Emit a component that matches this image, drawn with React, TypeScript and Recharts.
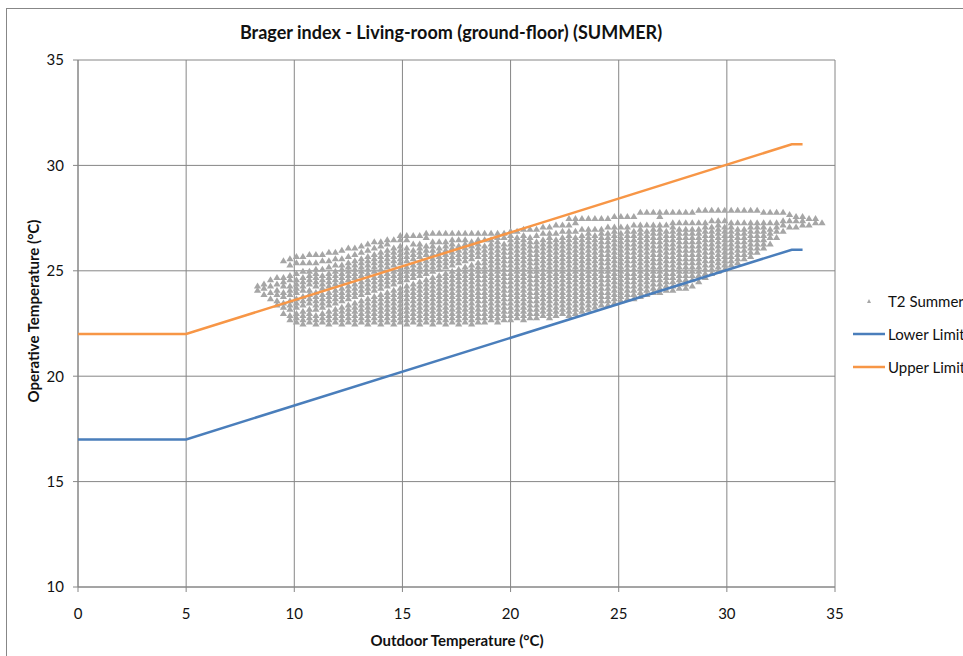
import { ScatterChart, Scatter, XAxis, YAxis, CartesianGrid } from "recharts";

const xTicks = [0, 5, 10, 15, 20, 25, 30, 35];
const yTicks = [10, 15, 20, 25, 30, 35];

const lowerLimit = [
  { x: 0, y: 17 },
  { x: 5, y: 17 },
  { x: 33, y: 26 },
  { x: 33.5, y: 26 },
];
const upperLimit = [
  { x: 0, y: 22 },
  { x: 5, y: 22 },
  { x: 33, y: 31 },
  { x: 33.5, y: 31 },
];

// T2 Summer readings, grouped by outdoor temperature: [outdoor, operative temps...]
const t2Summer: [number, number[]][] = [
  [8.3, [24.1, 24.3]],
  [8.6, [23.9, 24.2, 24.4]],
  [8.9, [23.7, 24.0, 24.3, 24.6]],
  [9.2, [23.4, 23.6, 23.9, 24.1, 24.4, 24.7]],
  [9.5, [23.0, 23.3, 23.5, 23.8, 24.0, 24.3, 24.5, 24.7, 25.5]],
  [9.8, [22.7, 22.9, 23.2, 23.4, 23.6, 23.9, 24.1, 24.3, 24.6, 24.8, 25.3, 25.6]],
  [10.1, [22.6, 22.8, 23.0, 23.3, 23.5, 23.7, 24.0, 24.2, 24.4, 24.6, 24.9, 25.4, 25.7]],
  [10.4, [22.5, 22.7, 22.9, 23.1, 23.4, 23.6, 23.8, 24.1, 24.3, 24.5, 24.7, 25.0, 25.4, 25.7]],
  [10.7, [22.6, 22.8, 23.0, 23.2, 23.5, 23.7, 23.9, 24.1, 24.4, 24.6, 24.8, 25.0, 25.4, 25.8]],
  [11.0, [22.5, 22.7, 22.9, 23.2, 23.4, 23.6, 23.8, 24.0, 24.3, 24.5, 24.7, 24.9, 25.1, 25.4, 25.8]],
  [11.3, [22.6, 22.8, 23.0, 23.3, 23.5, 23.7, 23.9, 24.2, 24.4, 24.6, 24.8, 25.1, 25.5, 25.8]],
  [11.6, [22.5, 22.7, 22.9, 23.1, 23.4, 23.6, 23.8, 24.0, 24.3, 24.5, 24.7, 24.9, 25.2, 25.5, 25.9]],
  [11.9, [22.6, 22.8, 23.0, 23.2, 23.5, 23.7, 23.9, 24.1, 24.4, 24.6, 24.8, 25.0, 25.3, 25.6, 25.9]],
  [12.2, [22.5, 22.7, 22.9, 23.1, 23.3, 23.6, 23.8, 24.0, 24.2, 24.5, 24.7, 24.9, 25.1, 25.3, 25.6, 26.0]],
  [12.5, [22.6, 22.8, 23.0, 23.2, 23.4, 23.7, 23.9, 24.1, 24.3, 24.6, 24.8, 25.0, 25.2, 25.4, 25.7, 26.1]],
  [12.8, [22.5, 22.7, 22.9, 23.1, 23.3, 23.5, 23.8, 24.0, 24.2, 24.4, 24.7, 24.9, 25.1, 25.3, 25.5, 25.8, 26.1]],
  [13.1, [22.6, 22.8, 23.0, 23.2, 23.4, 23.6, 23.9, 24.1, 24.3, 24.5, 24.8, 25.0, 25.2, 25.4, 25.6, 25.9, 26.2]],
  [13.4, [22.5, 22.7, 22.9, 23.1, 23.3, 23.5, 23.7, 24.0, 24.2, 24.4, 24.6, 24.9, 25.1, 25.3, 25.5, 25.7, 26.0, 26.3]],
  [13.7, [22.6, 22.8, 23.0, 23.2, 23.4, 23.6, 23.8, 24.1, 24.3, 24.5, 24.7, 25.0, 25.2, 25.4, 25.6, 25.8, 26.1, 26.4]],
  [14.0, [22.5, 22.7, 22.9, 23.1, 23.3, 23.5, 23.7, 23.9, 24.2, 24.4, 24.6, 24.8, 25.1, 25.3, 25.5, 25.7, 25.9, 26.2, 26.4]],
  [14.3, [22.6, 22.8, 23.0, 23.2, 23.4, 23.6, 23.8, 24.0, 24.3, 24.5, 24.7, 24.9, 25.2, 25.4, 25.6, 25.8, 26.0, 26.3, 26.5]],
  [14.6, [22.5, 22.7, 22.9, 23.1, 23.3, 23.5, 23.7, 23.9, 24.1, 24.4, 24.6, 24.8, 25.0, 25.3, 25.5, 25.7, 25.9, 26.1, 26.5]],
  [14.9, [22.6, 22.8, 23.0, 23.2, 23.4, 23.6, 23.8, 24.0, 24.2, 24.5, 24.7, 24.9, 25.1, 25.4, 25.6, 25.8, 26.0, 26.2, 26.5, 26.7]],
  [15.2, [22.5, 22.7, 22.9, 23.1, 23.3, 23.5, 23.7, 23.9, 24.1, 24.3, 24.6, 24.8, 25.0, 25.2, 25.5, 25.7, 25.9, 26.1, 26.5, 26.7]],
  [15.5, [22.6, 22.8, 23.0, 23.2, 23.4, 23.6, 23.8, 24.0, 24.2, 24.4, 24.7, 24.9, 25.1, 25.3, 25.6, 25.8, 26.0, 26.3, 26.7]],
  [15.8, [22.5, 22.7, 22.9, 23.1, 23.3, 23.5, 23.7, 23.9, 24.1, 24.3, 24.5, 24.8, 25.0, 25.2, 25.4, 25.7, 25.9, 26.1, 26.3, 26.7]],
  [16.1, [22.6, 22.8, 23.0, 23.2, 23.4, 23.6, 23.8, 24.0, 24.2, 24.4, 24.6, 24.9, 25.1, 25.3, 25.5, 25.8, 26.0, 26.2, 26.6, 26.8]],
  [16.4, [22.5, 22.7, 22.9, 23.1, 23.3, 23.5, 23.7, 23.9, 24.1, 24.3, 24.5, 24.7, 25.0, 25.2, 25.4, 25.6, 25.8, 26.0, 26.2, 26.4, 26.8]],
  [16.7, [22.6, 22.8, 23.0, 23.2, 23.4, 23.6, 23.8, 24.0, 24.2, 24.4, 24.6, 24.8, 25.1, 25.3, 25.5, 25.7, 25.9, 26.1, 26.4, 26.8]],
  [17.0, [22.5, 22.7, 22.9, 23.1, 23.3, 23.5, 23.7, 23.9, 24.1, 24.3, 24.5, 24.7, 24.9, 25.2, 25.4, 25.6, 25.8, 26.0, 26.2, 26.4, 26.8]],
  [17.3, [22.6, 22.8, 23.0, 23.2, 23.4, 23.6, 23.8, 24.0, 24.2, 24.4, 24.6, 24.8, 25.0, 25.3, 25.5, 25.7, 25.9, 26.1, 26.3, 26.5, 26.8]],
  [17.6, [22.5, 22.7, 22.9, 23.1, 23.3, 23.5, 23.7, 23.9, 24.1, 24.3, 24.5, 24.7, 24.9, 25.1, 25.4, 25.6, 25.8, 26.0, 26.2, 26.5, 26.8]],
  [17.9, [22.6, 22.8, 23.0, 23.2, 23.4, 23.6, 23.8, 24.0, 24.2, 24.4, 24.6, 24.8, 25.0, 25.2, 25.5, 25.7, 25.9, 26.1, 26.3, 26.5, 26.8]],
  [18.2, [22.5, 22.7, 22.9, 23.1, 23.3, 23.5, 23.7, 23.9, 24.1, 24.3, 24.5, 24.7, 24.9, 25.1, 25.3, 25.6, 25.8, 26.0, 26.2, 26.4, 26.8]],
  [18.5, [22.6, 22.8, 23.0, 23.2, 23.4, 23.6, 23.8, 24.0, 24.2, 24.4, 24.6, 24.8, 25.0, 25.2, 25.4, 25.7, 25.9, 26.1, 26.3, 26.5, 26.8]],
  [18.8, [22.6, 22.8, 23.0, 23.2, 23.4, 23.6, 23.8, 24.0, 24.2, 24.4, 24.6, 24.8, 25.0, 25.2, 25.4, 25.6, 25.8, 26.0, 26.2, 26.5, 26.8]],
  [19.1, [22.7, 22.9, 23.1, 23.3, 23.5, 23.7, 23.9, 24.1, 24.3, 24.5, 24.7, 24.9, 25.1, 25.3, 25.5, 25.7, 25.9, 26.1, 26.3, 26.5, 26.8]],
  [19.4, [22.6, 22.8, 23.0, 23.2, 23.4, 23.6, 23.8, 24.0, 24.2, 24.4, 24.6, 24.8, 25.0, 25.2, 25.4, 25.6, 25.8, 26.0, 26.2, 26.4, 26.6, 26.8]],
  [19.7, [22.7, 22.9, 23.1, 23.3, 23.5, 23.7, 23.9, 24.1, 24.3, 24.5, 24.7, 24.9, 25.1, 25.3, 25.5, 25.7, 25.9, 26.1, 26.3, 26.6, 26.8]],
  [20.0, [22.7, 22.9, 23.1, 23.3, 23.5, 23.7, 23.9, 24.1, 24.3, 24.5, 24.7, 24.9, 25.1, 25.3, 25.5, 25.7, 25.9, 26.1, 26.3, 26.5, 26.7, 26.9]],
  [20.3, [22.8, 23.0, 23.2, 23.4, 23.6, 23.8, 24.0, 24.2, 24.4, 24.6, 24.8, 25.0, 25.2, 25.4, 25.6, 25.8, 26.0, 26.2, 26.4, 26.6, 26.9]],
  [20.6, [22.7, 22.9, 23.1, 23.3, 23.5, 23.7, 23.9, 24.1, 24.3, 24.5, 24.7, 24.9, 25.1, 25.3, 25.5, 25.7, 25.9, 26.1, 26.3, 26.5, 26.7, 27.0]],
  [20.9, [22.8, 23.0, 23.2, 23.4, 23.6, 23.8, 24.0, 24.2, 24.4, 24.6, 24.8, 25.0, 25.2, 25.4, 25.6, 25.8, 26.0, 26.2, 26.4, 26.6, 27.0]],
  [21.2, [22.8, 23.0, 23.2, 23.4, 23.6, 23.8, 24.0, 24.2, 24.4, 24.6, 24.8, 25.0, 25.2, 25.4, 25.6, 25.8, 26.0, 26.2, 26.4, 26.7, 27.0]],
  [21.5, [22.9, 23.1, 23.3, 23.5, 23.7, 23.9, 24.1, 24.3, 24.5, 24.7, 24.9, 25.1, 25.3, 25.5, 25.7, 25.9, 26.1, 26.3, 26.5, 26.8, 27.1]],
  [21.8, [22.8, 23.0, 23.2, 23.4, 23.6, 23.8, 24.0, 24.2, 24.4, 24.6, 24.8, 25.0, 25.2, 25.4, 25.6, 25.8, 26.0, 26.2, 26.4, 26.6, 26.8, 27.1]],
  [22.1, [22.9, 23.1, 23.3, 23.5, 23.7, 23.9, 24.1, 24.3, 24.5, 24.7, 24.9, 25.1, 25.3, 25.5, 25.7, 25.9, 26.1, 26.3, 26.5, 26.8, 27.2]],
  [22.4, [23.0, 23.2, 23.4, 23.6, 23.8, 24.0, 24.2, 24.4, 24.6, 24.8, 25.0, 25.2, 25.4, 25.6, 25.8, 26.0, 26.2, 26.4, 26.6, 26.9, 27.2]],
  [22.7, [22.9, 23.1, 23.3, 23.5, 23.7, 23.9, 24.1, 24.3, 24.5, 24.7, 24.9, 25.1, 25.3, 25.5, 25.7, 25.9, 26.1, 26.3, 26.5, 26.7, 26.9, 27.2, 27.5]],
  [23.0, [23.0, 23.2, 23.4, 23.6, 23.8, 24.0, 24.2, 24.4, 24.6, 24.8, 25.0, 25.2, 25.4, 25.6, 25.8, 26.0, 26.2, 26.4, 26.6, 26.9, 27.3, 27.5]],
  [23.3, [23.1, 23.3, 23.5, 23.7, 23.9, 24.1, 24.3, 24.5, 24.7, 24.9, 25.1, 25.3, 25.5, 25.7, 25.9, 26.1, 26.3, 26.5, 26.7, 27.0, 27.5]],
  [23.6, [23.2, 23.4, 23.6, 23.8, 24.0, 24.2, 24.4, 24.6, 24.8, 25.0, 25.2, 25.4, 25.6, 25.8, 26.0, 26.2, 26.4, 26.6, 26.8, 27.0, 27.5]],
  [23.9, [23.3, 23.5, 23.7, 23.9, 24.1, 24.3, 24.5, 24.7, 24.9, 25.1, 25.3, 25.5, 25.7, 25.9, 26.1, 26.3, 26.5, 26.7, 27.0, 27.5]],
  [24.2, [23.4, 23.6, 23.8, 24.0, 24.2, 24.4, 24.6, 24.8, 25.0, 25.2, 25.4, 25.6, 25.8, 26.0, 26.2, 26.4, 26.6, 26.8, 27.0, 27.5]],
  [24.5, [23.4, 23.6, 23.8, 24.0, 24.2, 24.4, 24.6, 24.8, 25.0, 25.2, 25.4, 25.6, 25.8, 26.0, 26.2, 26.4, 26.6, 26.8, 27.1, 27.5]],
  [24.8, [23.5, 23.7, 23.9, 24.1, 24.3, 24.5, 24.7, 24.9, 25.1, 25.3, 25.5, 25.7, 25.9, 26.1, 26.3, 26.5, 26.7, 26.9, 27.1, 27.6]],
  [25.1, [23.6, 23.8, 24.0, 24.2, 24.4, 24.6, 24.8, 25.0, 25.2, 25.4, 25.6, 25.8, 26.0, 26.2, 26.4, 26.6, 26.8, 27.1, 27.6]],
  [25.4, [23.7, 23.9, 24.1, 24.3, 24.5, 24.7, 24.9, 25.1, 25.3, 25.5, 25.7, 25.9, 26.1, 26.3, 26.5, 26.7, 26.9, 27.1, 27.6]],
  [25.7, [23.7, 23.9, 24.1, 24.3, 24.5, 24.7, 24.9, 25.1, 25.3, 25.5, 25.7, 25.9, 26.1, 26.3, 26.5, 26.7, 26.9, 27.2, 27.6]],
  [26.0, [23.8, 24.0, 24.2, 24.4, 24.6, 24.8, 25.0, 25.2, 25.4, 25.6, 25.8, 26.0, 26.2, 26.4, 26.6, 26.8, 27.0, 27.2, 27.8]],
  [26.3, [23.9, 24.1, 24.3, 24.5, 24.7, 24.9, 25.1, 25.3, 25.5, 25.7, 25.9, 26.1, 26.3, 26.5, 26.7, 26.9, 27.2, 27.8]],
  [26.6, [24.0, 24.2, 24.4, 24.6, 24.8, 25.0, 25.2, 25.4, 25.6, 25.8, 26.0, 26.2, 26.4, 26.6, 26.8, 27.0, 27.2, 27.8]],
  [26.9, [24.0, 24.2, 24.4, 24.6, 24.8, 25.0, 25.2, 25.4, 25.6, 25.8, 26.0, 26.2, 26.4, 26.6, 26.8, 27.0, 27.2, 27.6, 27.8]],
  [27.2, [24.1, 24.3, 24.5, 24.7, 24.9, 25.1, 25.3, 25.5, 25.7, 25.9, 26.1, 26.3, 26.5, 26.7, 26.9, 27.2, 27.8]],
  [27.5, [24.1, 24.3, 24.5, 24.7, 24.9, 25.1, 25.3, 25.5, 25.7, 25.9, 26.1, 26.3, 26.5, 26.7, 26.9, 27.1, 27.3, 27.8]],
  [27.8, [24.2, 24.4, 24.6, 24.8, 25.0, 25.2, 25.4, 25.6, 25.8, 26.0, 26.2, 26.4, 26.6, 26.8, 27.0, 27.3, 27.8]],
  [28.1, [24.2, 24.4, 24.6, 24.8, 25.0, 25.2, 25.4, 25.6, 25.8, 26.0, 26.2, 26.4, 26.6, 26.8, 27.0, 27.3, 27.8]],
  [28.4, [24.3, 24.6, 24.8, 25.0, 25.2, 25.4, 25.6, 25.8, 26.0, 26.2, 26.4, 26.6, 26.8, 27.0, 27.3, 27.8]],
  [28.7, [24.5, 24.8, 25.0, 25.2, 25.4, 25.6, 25.8, 26.0, 26.2, 26.4, 26.6, 26.8, 27.0, 27.3, 27.9]],
  [29.0, [24.7, 24.9, 25.1, 25.3, 25.5, 25.7, 25.9, 26.1, 26.3, 26.5, 26.7, 26.9, 27.1, 27.3, 27.9]],
  [29.3, [24.9, 25.1, 25.3, 25.5, 25.7, 25.9, 26.1, 26.3, 26.5, 26.7, 26.9, 27.1, 27.4, 27.9]],
  [29.6, [25.0, 25.2, 25.4, 25.6, 25.8, 26.0, 26.2, 26.4, 26.6, 26.8, 27.0, 27.2, 27.4, 27.9]],
  [29.9, [25.1, 25.3, 25.5, 25.7, 25.9, 26.1, 26.3, 26.5, 26.7, 26.9, 27.1, 27.4, 27.9]],
  [30.2, [25.3, 25.5, 25.7, 25.9, 26.1, 26.3, 26.5, 26.7, 26.9, 27.1, 27.3, 27.9]],
  [30.5, [25.4, 25.6, 25.8, 26.0, 26.2, 26.4, 26.6, 26.8, 27.0, 27.3, 27.9]],
  [30.8, [25.6, 25.8, 26.0, 26.2, 26.4, 26.6, 26.8, 27.0, 27.3, 27.9]],
  [31.1, [25.7, 25.9, 26.1, 26.3, 26.5, 26.7, 26.9, 27.1, 27.3, 27.9]],
  [31.4, [25.9, 26.1, 26.3, 26.5, 26.7, 26.9, 27.1, 27.3, 27.9]],
  [31.7, [26.1, 26.3, 26.5, 26.7, 26.9, 27.1, 27.3, 27.8]],
  [32.0, [26.3, 26.6, 26.8, 27.0, 27.3, 27.8]],
  [32.3, [26.6, 26.9, 27.1, 27.3, 27.8]],
  [32.6, [26.9, 27.2, 27.4, 27.8]],
  [32.9, [27.1, 27.4, 27.7]],
  [33.2, [27.1, 27.4, 27.6]],
  [33.5, [27.2, 27.4, 27.6]],
  [33.8, [27.2, 27.5]],
  [34.1, [27.3, 27.5]],
  [34.4, [27.3]],
];

const cloud = t2Summer.flatMap(([x, ys]) => ys.map((y) => ({ x, y })));

const GRAY = "#a6a6a6";
const GRID = "#868686";
const BLUE = "#4a7ebb";
const ORANGE = "#f79646";
const FONT = "Lato, 'Open Sans', sans-serif";

const Triangle = (props: any) => {
  const { cx, cy } = props;
  if (cx == null || cy == null) return null;
  return (
    <path
      d={`M${cx - 3.6},${cy + 3}L${cx},${cy - 3}L${cx + 3.6},${cy + 3}Z`}
      fill={GRAY}
    />
  );
};

const NoDot = () => <g />;

export default function App() {
  const tick = { fill: "#111", fontSize: 15, fontFamily: FONT };
  return (
    <div
      style={{
        position: "fixed",
        left: 0,
        top: 0,
        width: 963,
        height: 656,
        overflow: "hidden",
        background: "#fff",
        fontFamily: FONT,
      }}
    >
      <div
        style={{
          position: "absolute",
          left: 6,
          top: 8,
          width: 1100,
          height: 800,
          border: "1px solid #878787",
        }}
      />
      <ScatterChart
        width={1000}
        height={656}
        margin={{ top: 60, right: 165, bottom: 0, left: 0 }}
        style={{ position: "absolute", left: 0, top: 0 }}
      >
        <CartesianGrid stroke={GRID} strokeWidth={1} />
        <XAxis
          type="number"
          dataKey="x"
          domain={[0, 35]}
          ticks={xTicks}
          height={69}
          tick={tick}
          tickSize={5}
          tickMargin={16}
          axisLine={{ stroke: GRID }}
          tickLine={{ stroke: GRID }}
          allowDataOverflow
        />
        <YAxis
          type="number"
          dataKey="y"
          domain={[10, 35]}
          ticks={yTicks}
          width={78}
          tick={tick}
          tickSize={5}
          tickMargin={9}
          axisLine={{ stroke: GRID }}
          tickLine={{ stroke: GRID }}
          allowDataOverflow
        />
        <Scatter
          name="T2 Summer"
          data={cloud}
          shape={Triangle}
          fill={GRAY}
          isAnimationActive={false}
        />
        <Scatter
          name="Lower Limit"
          data={lowerLimit}
          fill={BLUE}
          line={{ stroke: BLUE, strokeWidth: 2.5 }}
          shape={NoDot}
          isAnimationActive={false}
        />
        <Scatter
          name="Upper Limit"
          data={upperLimit}
          fill={ORANGE}
          line={{ stroke: ORANGE, strokeWidth: 2.5 }}
          shape={NoDot}
          isAnimationActive={false}
        />
      </ScatterChart>

      <div
        style={{
          position: "absolute",
          left: 451,
          top: 32,
          transform: "translate(-50%, -50%)",
          whiteSpace: "nowrap",
          fontWeight: 700,
          fontSize: 18,
          color: "#111",
        }}
      >
        Brager index - Living-room (ground-floor) (SUMMER)
      </div>
      <div
        style={{
          position: "absolute",
          left: 457,
          top: 640,
          transform: "translate(-50%, -50%)",
          whiteSpace: "nowrap",
          fontWeight: 700,
          fontSize: 15,
          color: "#111",
        }}
      >
        Outdoor Temperature (°C)
      </div>
      <div
        style={{
          position: "absolute",
          left: 33,
          top: 311,
          transform: "translate(-50%, -50%) rotate(-90deg)",
          whiteSpace: "nowrap",
          fontWeight: 700,
          fontSize: 15,
          color: "#111",
        }}
      >
        Operative Temperature (°C)
      </div>

      <div style={{ position: "absolute", left: 853, top: 289, fontSize: 15, color: "#111" }}>
        <div style={{ display: "flex", alignItems: "center", height: 24, whiteSpace: "nowrap" }}>
          <svg width={32} height={10} style={{ marginRight: 3, flex: "none" }}>
            <path d="M14,7L16,3L18,7Z" fill={GRAY} />
          </svg>
          T2 Summer
        </div>
        <div style={{ display: "flex", alignItems: "center", height: 24, marginTop: 9, whiteSpace: "nowrap" }}>
          <svg width={32} height={10} style={{ marginRight: 3, flex: "none" }}>
            <line x1={0} y1={5} x2={32} y2={5} stroke={BLUE} strokeWidth={2.5} />
          </svg>
          Lower Limit
        </div>
        <div style={{ display: "flex", alignItems: "center", height: 24, marginTop: 9, whiteSpace: "nowrap" }}>
          <svg width={32} height={10} style={{ marginRight: 3, flex: "none" }}>
            <line x1={0} y1={5} x2={32} y2={5} stroke={ORANGE} strokeWidth={2.5} />
          </svg>
          Upper Limit
        </div>
      </div>
    </div>
  );
}
